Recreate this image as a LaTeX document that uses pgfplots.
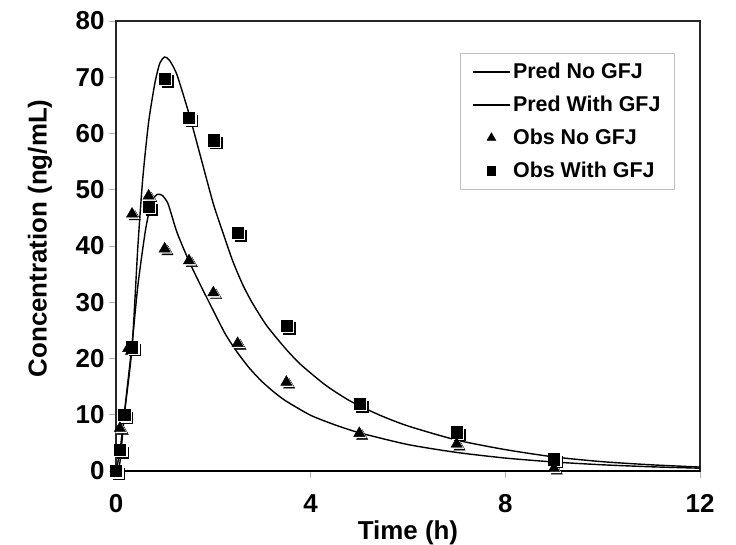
\documentclass[border=0pt]{standalone}
\usepackage{fontspec}
\setmainfont{Liberation Sans}
\usepackage{pgfplots}
\pgfplotsset{compat=1.18}
\pgfplotsset{
  lineleg/.style={legend image code/.code={\draw[##1] (0bp,0bp) -- (37bp,0bp);}},
  triLeg/.style={legend image code/.code={\draw[##1, mark size=4.8bp] plot coordinates {(18bp,0bp)};}},
  sqLeg/.style={legend image code/.code={\draw[##1, mark size=4.2bp] plot coordinates {(18bp,0bp)};}},
}
\pgfplotstableread{
t c
0 0
0.08 1.5
0.18 10.8
0.33 22.5
0.45 33
0.6 42.5
0.7 46.8
0.8 48.8
0.86 49.2
0.95 49
1.07 47.5
1.25 42.5
1.5 37.3
1.75 32.8
2.0 28.5
2.25 24.3
2.5 21
2.75 18.2
3.0 15.9
3.25 14
3.5 12.4
4.0 9.9
4.5 8.2
5.0 6.8
6.0 4.7
7.0 3.3
8.0 2.3
9.0 1.6
10 1.1
11 0.75
12 0.5
}\predno
\pgfplotstableread{
t c
0 0
0.08 3.5
0.17 10
0.33 22
0.45 40
0.55 52
0.67 62
0.8 69
0.9 72.5
1.0 73.6
1.1 73
1.25 70.5
1.5 63.5
1.75 55.5
2.0 47.5
2.2 42.3
2.4 37.3
2.6 33.2
2.8 29.9
3.1 25.8
3.5 21.6
3.8 18.9
4.3 15.3
4.8 12.5
5.4 10
6.0 8.0
7.0 5.5
8.0 3.8
9.0 2.5
10 1.65
11 1.1
12 0.7
}\predwith
\pgfplotstableread{
t c
0 0
0.08 7.6
0.25 21.8
0.33 45.7
0.67 48.9
1 39.5
1.5 37.4
2 31.7
2.5 22.7
3.5 15.8
5 6.7
7 4.8
9 0.5
}\obsno
\pgfplotstableread{
t c
0 0
0.08 3.8
0.17 10
0.33 22
0.67 47
1 69.8
1.5 62.8
2 58.8
2.5 42.4
3.5 25.9
5 12
7 6.9
9 2.1
}\obswith
\begin{document}
\begin{tikzpicture}
\begin{axis}[
  scale only axis, width=584bp, height=450bp,
  xmin=0, xmax=12, ymin=0, ymax=80,
  xtick={0,4,8,12}, ytick={0,10,...,80},
  tick align=outside, tick pos=left, major tick length=7bp,
  tick style={gray!60, line width=0.8bp},
  axis line style={line width=1.6bp, black!85},
  ticklabel style={font=\fontsize{26}{26}\selectfont\bfseries},
  xticklabel style={yshift=-13bp},
  yticklabel style={xshift=-1bp},
  /pgf/number format/assume math mode=true,
  xlabel={Time (h)}, ylabel={Concentration (ng/mL)},
  label style={font=\fontsize{26}{26}\selectfont\bfseries},
  xlabel style={at={(axis description cs:0.5,-0.137)}, anchor=center},
  ylabel style={at={(axis description cs:-0.13,0.517)}, anchor=center},
  legend style={draw=gray!50, line width=0.8bp, font=\fontsize{21.5}{23}\selectfont\bfseries,
    at={(0.957,0.929)}, anchor=north east, row sep=12bp,
    inner xsep=12bp, inner ysep=8bp},
  legend cell align=left,
  clip=false,
]
\addplot[black, line width=1.4bp, smooth, tension=0.4, lineleg] table[x=t,y=c] {\predno};
\addlegendentry{Pred No GFJ}
\addplot[black, line width=1.4bp, smooth, tension=0.4, lineleg] table[x=t,y=c] {\predwith};
\addlegendentry{Pred With GFJ}
% shadows
\addplot[only marks, mark=triangle*, mark size=6.5bp, black, mark options={xshift=2.8bp,yshift=-2.8bp}, forget plot] table[x=t,y=c] {\obsno};
\addplot[only marks, mark=triangle*, mark size=6.5bp, white, mark options={xshift=1.4bp,yshift=-1.4bp}, forget plot] table[x=t,y=c] {\obsno};
\addplot[only marks, mark=square*, mark size=5.6bp, black, mark options={xshift=2.8bp,yshift=-2.8bp}, forget plot] table[x=t,y=c] {\obswith};
\addplot[only marks, mark=square*, mark size=5.6bp, white, mark options={xshift=1.4bp,yshift=-1.4bp}, forget plot] table[x=t,y=c] {\obswith};
\addplot[only marks, mark=triangle*, mark size=6.5bp, black, triLeg] table[x=t,y=c] {\obsno};
\addlegendentry{Obs No GFJ}
\addplot[only marks, mark=square*, mark size=5.6bp, black, sqLeg] table[x=t,y=c] {\obswith};
\addlegendentry{Obs With GFJ}
\draw[black, line width=2.6bp] (rel axis cs:0,0) -- (rel axis cs:1,0);
\coordinate (O) at (rel axis cs:0,0);
\end{axis}
\pgfresetboundingbox
\path[use as bounding box] (O) ++(-116bp,-74bp) rectangle ++(736bp,545bp);
\end{tikzpicture}
\end{document}
